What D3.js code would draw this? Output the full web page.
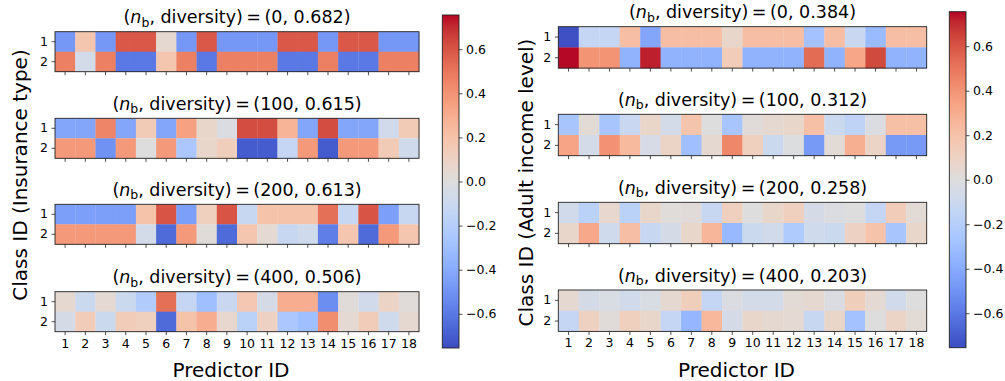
<!DOCTYPE html>
<html>
<head>
<meta charset="utf-8">
<script src="https://cdn.jsdelivr.net/npm/d3@7"></script>
<style>
  html, body { margin: 0; padding: 0; background: #fff; }
  svg { display: block; font-family: "DejaVu Sans", sans-serif; }
  .tick text { font-family: "DejaVu Sans", sans-serif; }
</style>
</head>
<body>
<svg id="chart" width="1005" height="381"></svg>
<script>
// Predictor (column) and class (row) identifiers
const predictorIds = [1, 2, 3, 4, 5, 6, 7, 8, 9, 10, 11, 12, 13, 14, 15, 16, 17, 18];
const classIds = [1, 2];

// Number of bootstrap models and resulting diversity per subplot
const nbValues = [0, 100, 200, 400];
const insuranceDiversity = [0.682, 0.615, 0.613, 0.506];
const adultDiversity = [0.384, 0.312, 0.258, 0.203];

// Colorbar ticks
const colorbarTicks = [-0.6, -0.4, -0.2, 0.0, 0.2, 0.4, 0.6];
const colorLimit = 0.755;

// Insurance type: weight per (class, predictor)
const insuranceNb0 = [
  [-0.48, 0.18, -0.48, 0.59, 0.59, 0.05, -0.48, 0.59, -0.48, -0.48, -0.48, 0.59, 0.59, -0.48, 0.59, 0.59, -0.48, -0.48],
  [0.47, -0.06, 0.47, -0.60, -0.60, 0.18, 0.47, -0.60, 0.47, 0.47, 0.47, -0.60, -0.60, 0.47, -0.60, -0.60, 0.47, 0.47]
];
const insuranceNb100 = [
  [-0.42, -0.42, 0.45, -0.42, 0.15, -0.42, 0.35, 0.07, -0.02, 0.62, 0.62, 0.27, -0.42, 0.62, -0.42, -0.42, -0.07, 0.15],
  [0.38, 0.38, -0.50, 0.38, 0.00, 0.38, -0.25, 0.07, 0.13, -0.70, -0.70, -0.13, 0.38, -0.70, 0.38, 0.38, 0.15, -0.08]
];
const insuranceNb200 = [
  [-0.45, -0.45, -0.45, -0.45, 0.20, 0.60, -0.45, 0.12, 0.60, -0.12, 0.20, 0.20, 0.20, 0.52, -0.12, 0.60, -0.45, -0.12],
  [0.38, 0.38, 0.38, 0.38, -0.06, -0.65, 0.38, 0.02, -0.65, 0.18, 0.04, -0.12, -0.08, -0.58, 0.18, -0.65, 0.38, 0.18]
];
const insuranceNb400 = [
  [0.05, -0.10, 0.04, -0.10, -0.22, 0.52, -0.13, -0.30, -0.11, 0.17, -0.05, 0.30, 0.30, -0.52, 0.02, -0.07, 0.09, 0.02],
  [-0.05, 0.14, -0.10, 0.14, 0.12, -0.65, 0.20, 0.30, 0.06, -0.18, 0.10, -0.25, -0.30, 0.42, 0.04, 0.14, -0.08, 0.05]
];

// Adult income level: weight per (class, predictor)
const adultNb0 = [
  [-0.74, -0.13, -0.13, 0.22, -0.42, 0.22, 0.22, 0.22, 0.07, 0.22, 0.22, 0.22, -0.28, 0.22, -0.11, -0.32, 0.22, 0.22],
  [0.75, 0.40, 0.40, -0.36, 0.72, -0.36, -0.36, -0.36, 0.14, -0.36, -0.36, -0.36, 0.53, -0.36, 0.33, 0.63, -0.36, -0.36]
];
const adultNb100 = [
  [-0.26, 0.03, -0.26, -0.11, 0.08, -0.06, 0.19, 0.00, -0.26, 0.02, 0.05, 0.07, 0.21, -0.10, -0.16, -0.02, 0.21, 0.21],
  [0.34, -0.06, 0.41, 0.24, -0.04, 0.09, -0.30, 0.05, 0.44, 0.12, -0.10, -0.01, -0.47, 0.03, 0.29, 0.09, -0.47, -0.47]
];
const adultNb200 = [
  [-0.07, -0.18, 0.06, -0.18, 0.07, 0.01, 0.02, -0.12, 0.12, 0.00, 0.07, 0.12, -0.05, -0.02, 0.00, -0.13, 0.14, 0.03],
  [0.07, 0.32, -0.08, 0.22, -0.12, -0.05, 0.07, 0.26, -0.33, -0.10, -0.07, -0.23, -0.08, -0.10, 0.10, 0.20, -0.26, 0.07]
];
const adultNb400 = [
  [0.05, -0.05, -0.03, -0.07, -0.03, 0.05, 0.13, -0.13, -0.02, -0.06, -0.06, 0.03, 0.05, -0.02, 0.13, 0.04, -0.07, 0.00],
  [-0.13, 0.11, 0.02, 0.12, 0.07, -0.13, -0.34, 0.25, -0.05, 0.07, 0.05, 0.04, -0.12, 0.08, -0.28, 0.00, 0.09, 0.03]
];

// Cool-to-warm diverging ramp (33 stops)
const coolwarmStops = [
  [59,76,192],[68,90,204],[77,104,215],[87,117,225],[98,130,234],[108,142,241],[119,154,247],[130,165,251],
  [141,176,254],[152,185,255],[163,194,255],[174,201,253],[184,208,249],[194,213,244],[204,217,238],[213,219,230],
  [221,221,221],[229,216,209],[236,211,197],[241,204,185],[245,196,173],[247,187,160],[247,177,148],[247,166,135],
  [244,154,123],[241,141,111],[236,127,99],[229,112,88],[222,96,77],[213,80,66],[203,62,56],[192,40,47],[180,4,38]
].map(c => `rgb(${c[0]},${c[1]},${c[2]})`);

const color = d3.scaleLinear()
  .domain(coolwarmStops.map((_, i) => -colorLimit + 2 * colorLimit * i / (coolwarmStops.length - 1)))
  .range(coolwarmStops)
  .interpolate(d3.interpolateRgb)
  .clamp(true);

const svg = d3.select("#chart");
const defs = svg.append("defs");
const axisColor = "#222";
const tickFont = 12.5;

const panels = [
  {
    name: "insurance",
    matrices: [insuranceNb0, insuranceNb100, insuranceNb200, insuranceNb400],
    diversity: insuranceDiversity,
    ylabel: "Class ID (Insurance type)",
    x0: 55, x1: 419,
    tops: [31.7, 118.3, 204.3, 291.7], rowH: 20,
    titleOffset: 8.5,
    xlabelX: 231,
    ylabelX: 26.5, ylabelY: 175,
    cbar: { x: 442.3, w: 16.7, top: 15, bottom: 348 }
  },
  {
    name: "adult",
    matrices: [adultNb0, adultNb100, adultNb200, adultNb400],
    diversity: adultDiversity,
    ylabel: "Class ID (Adult income level)",
    x0: 558.3, x1: 926.7,
    tops: [26.7, 114.3, 202.3, 290], rowH: 20.7,
    titleOffset: 8.5,
    xlabelX: 736.5,
    ylabelX: 533, ylabelY: 182.5,
    cbar: { x: 949.3, w: 16.7, top: 11.7, bottom: 347.7 }
  }
];

function drawTitle(g, cx, baseline, nb, div) {
  const t = g.append("text")
    .attr("x", cx).attr("y", baseline)
    .attr("text-anchor", "middle")
    .attr("font-size", 17.5)
    .attr("fill", "#000");
  t.append("tspan").text("(");
  t.append("tspan").attr("font-style", "italic").text("n");
  t.append("tspan").attr("font-size", 12.5).attr("dy", 3.5).text("b");
  t.append("tspan").attr("dy", -3.5).text(", diversity)\u2009=\u2009(" + nb + ", " + div.toFixed(3) + ")");
}

function styleAxis(sel) {
  sel.select(".domain").remove();
  sel.attr("font-size", tickFont).attr("font-family", "DejaVu Sans");
  sel.selectAll("line").attr("stroke", axisColor).attr("stroke-width", 0.8);
  sel.selectAll("text").attr("font-size", tickFont).attr("fill", "#000");
}

panels.forEach(p => {
  const g = svg.append("g").attr("class", p.name);
  const x = d3.scaleBand().domain(predictorIds).range([p.x0, p.x1]);

  p.matrices.forEach((mat, k) => {
    const top = p.tops[k];
    const y = d3.scaleBand().domain(classIds).range([top, top + 2 * p.rowH]);
    const cells = [];
    classIds.forEach((c, i) => predictorIds.forEach((pid, j) => cells.push({ c, pid, v: mat[i][j] })));

    const hg = g.append("g");
    hg.selectAll("rect.cell").data(cells).join("rect")
      .attr("class", "cell")
      .attr("x", d => x(d.pid))
      .attr("y", d => y(d.c))
      .attr("width", x.bandwidth() + 0.3)
      .attr("height", y.bandwidth() + 0.3)
      .attr("fill", d => color(d.v));

    // frame
    hg.append("rect")
      .attr("x", p.x0).attr("y", top)
      .attr("width", p.x1 - p.x0).attr("height", 2 * p.rowH)
      .attr("fill", "none").attr("stroke", axisColor).attr("stroke-width", 0.9);

    // y axis
    hg.append("g")
      .attr("transform", `translate(${p.x0},0)`)
      .call(d3.axisLeft(y).tickSize(3.5).tickPadding(3.5))
      .call(styleAxis);

    // x axis (labels only on the bottom subplot)
    const xAxis = hg.append("g")
      .attr("transform", `translate(0,${top + 2 * p.rowH})`)
      .call(d3.axisBottom(x).tickSize(3.5).tickPadding(3.5))
      .call(styleAxis);
    if (k < p.matrices.length - 1) xAxis.selectAll("text").remove();

    drawTitle(hg, (p.x0 + p.x1) / 2, top - p.titleOffset, nbValues[k], p.diversity[k]);
  });

  // x label
  g.append("text")
    .attr("x", p.xlabelX).attr("y", 377)
    .attr("text-anchor", "middle").attr("font-size", 20).attr("fill", "#000")
    .text("Predictor ID");

  // y label
  g.append("text")
    .attr("transform", `translate(${p.ylabelX},${p.ylabelY}) rotate(-90)`)
    .attr("text-anchor", "middle").attr("font-size", 20).attr("fill", "#000")
    .text(p.ylabel);

  // colorbar
  const cb = p.cbar;
  const gradId = "grad-" + p.name;
  const grad = defs.append("linearGradient").attr("id", gradId)
    .attr("x1", 0).attr("y1", 1).attr("x2", 0).attr("y2", 0);
  color.domain().forEach((d, i) => {
    grad.append("stop")
      .attr("offset", i / (color.domain().length - 1))
      .attr("stop-color", coolwarmStops[i]);
  });
  g.append("rect")
    .attr("x", cb.x).attr("y", cb.top)
    .attr("width", cb.w).attr("height", cb.bottom - cb.top)
    .attr("fill", `url(#${gradId})`)
    .attr("stroke", axisColor).attr("stroke-width", 0.9);

  const cy = d3.scaleLinear().domain([-colorLimit, colorLimit]).range([cb.bottom, cb.top]);
  g.append("g")
    .attr("transform", `translate(${cb.x + cb.w},0)`)
    .call(d3.axisRight(cy).tickValues(colorbarTicks).tickFormat(d3.format(".1f"))
      .tickSize(3.5).tickPadding(3.5))
    .call(styleAxis);
});
</script>
</body>
</html>
